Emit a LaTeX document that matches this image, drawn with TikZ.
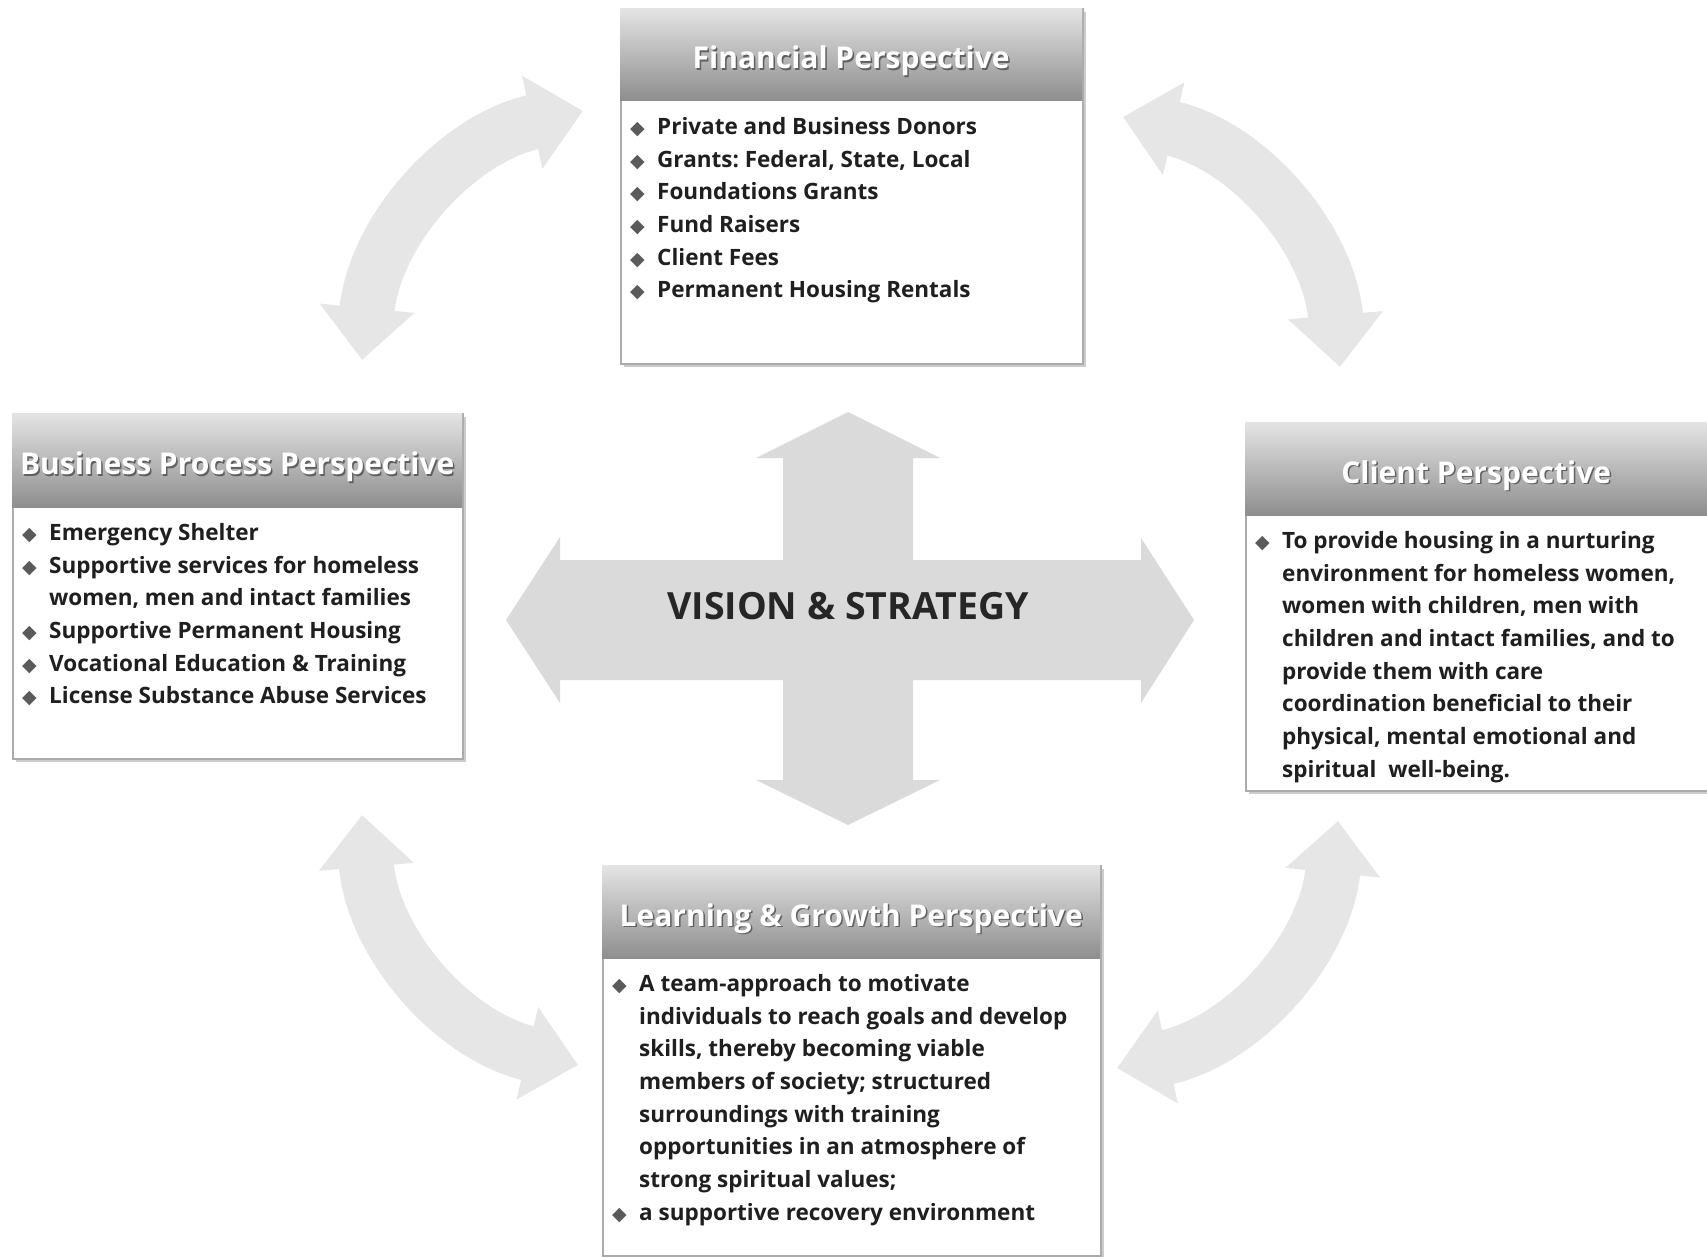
\documentclass[tikz,border=0pt]{standalone}
\usepackage{fontspec}
\setmainfont{Open Sans}
\newfontfamily\symfont{DejaVu Sans}
\usetikzlibrary{arrows.meta, positioning, calc, shadows}
\frenchspacing

\definecolor{arrowgrey}{HTML}{E6E6E6}
\definecolor{crossgrey}{HTML}{DADADA}
\definecolor{framegrey}{HTML}{ABABAB}
\definecolor{hdrtop}{HTML}{E4E4E4}
\definecolor{hdrbot}{HTML}{8E8E8E}
\definecolor{bullgrey}{HTML}{5A5A5A}

\newcommand{\bul}{\makebox[27pt][l]{\symfont\fontsize{19}{19}\selectfont\textcolor{bullgrey}{◆}}}
\newcommand{\bulindent}{\hspace*{27pt}}
\newcommand{\hdrtext}[1]{\makebox[0pt][l]{\hspace{1.5pt}\raisebox{-1.5pt}{\color{gray!75!black}#1}}#1}

\begin{document}
\begin{tikzpicture}[
  x=1pt, y=-1pt,
  panel/.style={draw=framegrey, line width=1.5pt, fill=white, anchor=north west, inner sep=0pt,
    drop shadow={shadow xshift=3pt, shadow yshift=-3pt, fill=gray!50, opacity=0.8}},
  head/.style={anchor=north west, inner sep=0pt, top color=hdrtop, bottom color=hdrbot,
    text=white, text height=29pt, text depth=0pt, font=\fontsize{30}{36}\selectfont\bfseries},
  body/.style={anchor=base west, inner sep=0pt, align=left, text=black!88,
    font=\fontsize{22.5}{32.7}\selectfont\bfseries},
  curvy/.style={draw=arrowgrey, line width=55pt,
    {Triangle[width=92pt,length=52pt]}-{Triangle[width=92pt,length=52pt]}}
]
\useasboundingbox (0,0) rectangle (1707,1257);

\coordinate (tl-a) at (362,360);
\coordinate (tl-b) at (583,111);
\coordinate (tr-a) at (1123,117);
\coordinate (tr-b) at (1340,367);
\coordinate (br-a) at (1338,821);
\coordinate (br-b) at (1117,1068);
\coordinate (bl-b) at (578,1065);
\coordinate (bl-a) at (362,815);
\draw[curvy] (tl-a) to[bend left=36] (tl-b);
\draw[curvy] (tr-a) to[bend left=36] (tr-b);
\draw[curvy] (br-a) to[bend left=36] (br-b);
\draw[curvy] (bl-b) to[bend left=36] (bl-a);

\fill[crossgrey] (848,412) -- (940,458) -- (913,458) -- (913,560) -- (1141,560) -- (1141,538)
  -- (1194,620) -- (1141,703) -- (1141,680) -- (913,680) -- (913,780) -- (940,780)
  -- (848,825) -- (756,780) -- (783,780) -- (783,680) -- (560,680) -- (560,703)
  -- (506,620) -- (560,537) -- (560,560) -- (783,560) -- (783,458) -- (756,458) -- cycle;
\node[font=\fontsize{37.5}{40}\selectfont\bfseries, text=black!85] (vision) at (848,606) {VISION \& STRATEGY};

% body nodes sit on the baseline of their last line
\node[panel, minimum width=462pt, minimum height=355pt] (fin) at (620,8) {};
\node[head, minimum width=462pt, minimum height=92pt] (fin-head) at (620,8) {\hdrtext{Financial Perspective}};
\node[body] (fin-body) at ($(fin-head.south west)+(10,34+5*32.7)$) {%
  \bul Private and Business Donors\\
  \bul Grants: Federal, State, Local\\
  \bul Foundations Grants\\
  \bul Fund Raisers\\
  \bul Client Fees\\
  \bul Permanent Housing Rentals};

\node[panel, minimum width=450pt, minimum height=345pt] (bus) at (12,413) {};
\node[head, minimum width=450pt, minimum height=94pt] (bus-head) at (12,413) {\hdrtext{Business Process Perspective}};
\node[body] (bus-body) at ($(bus-head.south west)+(10,33+5*32.7)$) {%
  \bul Emergency Shelter\\
  \bul Supportive services for homeless\\
  \bulindent women, men and intact families\\
  \bul Supportive Permanent Housing\\
  \bul Vocational Education \& Training\\
  \bul License Substance Abuse Services};

\node[panel, minimum width=462pt, minimum height=368pt] (cli) at (1245,422) {};
\node[head, minimum width=462pt, minimum height=93pt] (cli-head) at (1245,422) {\hdrtext{Client Perspective}};
\node[body] (cli-body) at ($(cli-head.south west)+(10,33+7*32.7)$) {%
  \bul To provide housing in a nurturing\\
  \bulindent environment for homeless women,\\
  \bulindent women with children, men with\\
  \bulindent children and intact families, and to\\
  \bulindent provide them with care\\
  \bulindent coordination beneficial to their\\
  \bulindent physical, mental emotional and\\
  \bulindent spiritual\ \ well-being.};

\node[panel, minimum width=498pt, minimum height=390pt] (lrn) at (602,865) {};
\node[head, minimum width=498pt, minimum height=93pt] (lrn-head) at (602,865) {\hdrtext{Learning \& Growth Perspective}};
\node[body] (lrn-body) at ($(lrn-head.south west)+(10,33+7*32.7)$) {%
  \bul A team-approach to motivate\\
  \bulindent individuals to reach goals and develop\\
  \bulindent skills, thereby becoming viable\\
  \bulindent members of society; structured\\
  \bulindent surroundings with training\\
  \bulindent opportunities in an atmosphere of\\
  \bulindent strong spiritual values;\\
  \bul a supportive recovery environment};
\end{tikzpicture}
\end{document}
